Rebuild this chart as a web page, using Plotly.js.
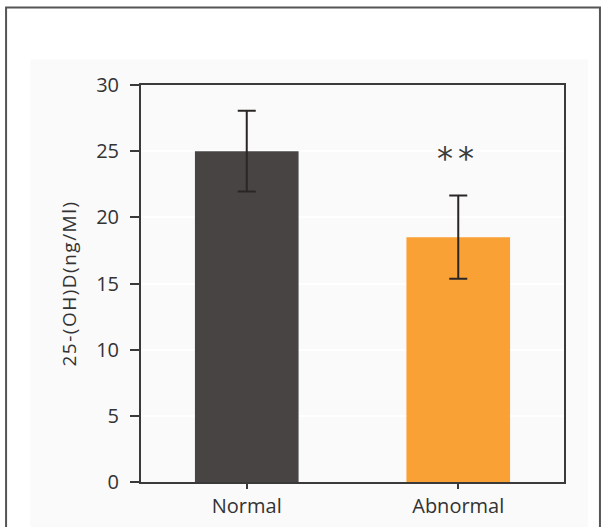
<!DOCTYPE html>
<html>
<head>
<meta charset="utf-8">
<script src="https://cdn.plot.ly/plotly-3.0.1.min.js"></script>
<style>
html,body{margin:0;padding:0;background:#fff;}
#chart{width:606px;height:527px;}
#chart .ytitle{letter-spacing:1.5px;}
#chart .annotation-text{letter-spacing:5px;}
</style>
</head>
<body>
<div id="chart"></div>
<script>
const categories = ["Normal", "Abnormal"];
const values = [25, 18.5];
const errors = [3.05, 3.15];
const barColors = ["#484444", "#f9a134"];
const yTicks = [0, 5, 10, 15, 20, 25, 30];
const significance = "**";

const trace = {
  type: "bar",
  x: categories,
  y: values,
  marker: {color: barColors, line: {width: 0}},
  width: 0.49,
  error_y: {type: "data", array: errors, visible: true, color: "#2b2626", thickness: 2, width: 9},
  hoverinfo: "none"
};

const layout = {
  width: 606,
  height: 527,
  margin: {l: 141, r: 42, t: 85, b: 45},
  paper_bgcolor: "#ffffff",
  plot_bgcolor: "#e8e5e2",
  showlegend: false,
  font: {family: "'Open Sans', Lato, sans-serif", color: "#333333", size: 19},
  xaxis: {
    type: "category",
    range: [-0.5, 1.5],
    showline: true, linecolor: "#3a3a3a", linewidth: 2, mirror: true,
    ticks: "outside", ticklen: 5, tickwidth: 2, tickcolor: "#3a3a3a",
    showgrid: false, zeroline: false,
    tickfont: {size: 20, color: "#333333"}
  },
  yaxis: {
    range: [0, 30],
    tickvals: yTicks,
    showline: true, linecolor: "#3a3a3a", linewidth: 2, mirror: true,
    ticks: "outside", ticklen: 9, tickwidth: 2, tickcolor: "#3a3a3a",
    ticklabelstandoff: 7,
    showgrid: true, gridcolor: "#ffffff", gridwidth: 2,
    zeroline: false,
    tickfont: {size: 20, color: "#333333"},
    title: {text: "25-(OH)D(ng/Ml)", font: {size: 19, color: "#333333"}, standoff: 14}
  },
  annotations: [{
    x: categories[1], y: 25, xref: "x", yref: "y",
    text: significance, showarrow: false, yshift: -7,
    font: {size: 32, color: "#3c3c3c", family: "DejaVu Sans, sans-serif"}
  }],
  shapes: [{
    type: "rect", xref: "paper", yref: "paper",
    x0: -0.262, x1: 1.057, y0: -0.2, y1: 1.064,
    line: {width: 0}, fillcolor: "#fafafa", layer: "below"
  }, {
    type: "rect", xref: "paper", yref: "paper",
    x0: -0.319, x1: 1.085, y0: -0.16, y1: 1.195,
    line: {color: "#555555", width: 2}, fillcolor: "rgba(0,0,0,0)", layer: "below"
  }]
};

Plotly.newPlot("chart", [trace], layout, {displayModeBar: false, staticPlot: true});
</script>
</body>
</html>
